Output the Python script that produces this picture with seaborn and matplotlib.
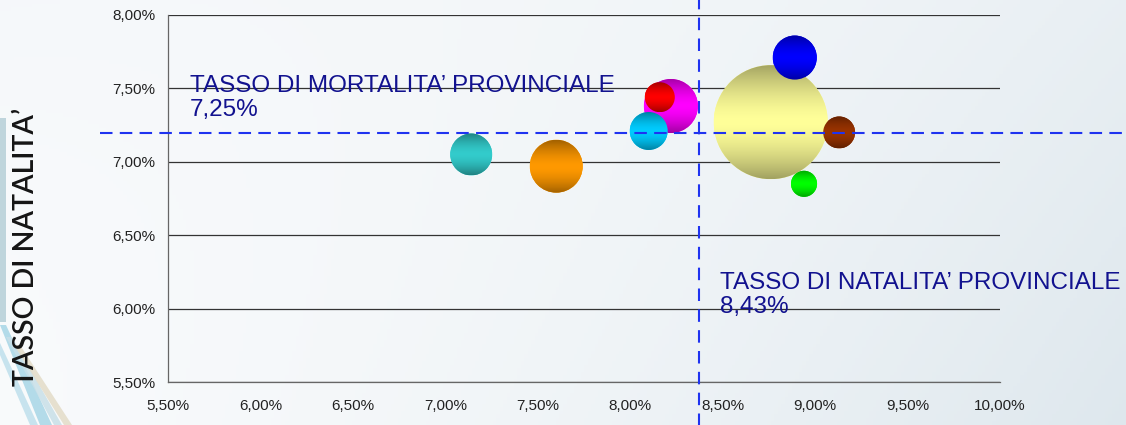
#!/usr/bin/env python3
import numpy as np
import pandas as pd
import seaborn as sns
import matplotlib.pyplot as plt
from matplotlib.patches import Circle, Polygon
from matplotlib.colors import to_rgb
from matplotlib.transforms import IdentityTransform

# data (rates in %)
zone = ["Zona A", "Zona B", "Zona C", "Zona D", "Zona E",
        "Zona F", "Zona G", "Zona H", "Zona I"]
natalita = [8.76, 7.60, 8.22, 8.89, 7.14, 8.10, 9.13, 8.16, 8.94]
mortalita = [7.27, 6.97, 7.38, 7.71, 7.05, 7.21, 7.20, 7.44, 6.85]
popolazione = [3250, 700, 730, 485, 440, 360, 255, 225, 170]
colori = ["#ffff99", "#ff9900", "#ff00ff", "#0000ff", "#33cccc",
          "#00ccff", "#993300", "#ff0000", "#00ff00"]

# provincial reference lines
rif_natalita = 8.37
rif_mortalita = 7.195
testo_natalita = "TASSO DI NATALITA’ PROVINCIALE\n8,43%"
testo_mortalita = "TASSO DI MORTALITA’ PROVINCIALE\n7,25%"

x_ticks = [5.5, 6.0, 6.5, 7.0, 7.5, 8.0, 8.5, 9.0, 9.5, 10.0]
y_ticks = [5.5, 6.0, 6.5, 7.0, 7.5, 8.0]


def pct(v):
    return f"{v:.2f}%".replace(".", ",")


def draw_background(fig):
    """Soft template background with the stripes on the left."""
    bg = fig.add_axes([0, 0, 1, 1], zorder=-10)
    h, w = 120, 320
    yy, xx = np.mgrid[0:1:h * 1j, 0:1:w * 1j]
    weight = 0.55 * xx ** 2 + 0.35 * xx * (1 - yy) + 0.12 * (1 - xx) * yy ** 2
    weight = np.clip(weight, 0, 1)
    white = np.array([0.975, 0.982, 0.988])
    tint = np.array([0.86, 0.90, 0.925])
    img = white[None, None, :] * (1 - weight[..., None]) + tint[None, None, :] * weight[..., None]
    bg.imshow(img, extent=[0, 1126, 0, 425], aspect="auto", origin="lower")
    bg.set_xlim(0, 1126)
    bg.set_ylim(0, 425)
    bg.axis("off")
    # vertical bar on the left edge
    bg.add_patch(Polygon([[0, 103], [6, 103], [6, 307], [0, 307]],
                         color="#bfd5dc", lw=0))
    # diagonal stripes at the bottom-left corner
    stripes = [([[0, 100], [6, 100], [52, 0], [40, 0]], "#a7d6e6"),
               ([[0, 82], [0, 70], [30, 0], [38, 0]], "#bfe0ec"),
               ([[6, 88], [12, 88], [62, 0], [54, 0]], "#c8dfe8"),
               ([[14, 80], [20, 80], [72, 0], [64, 0]], "#e3dcc8")]
    for pts, col in stripes:
        bg.add_patch(Polygon(pts, color=col, lw=0, alpha=0.85))


def add_shading(fig, ax, df, sizes_pt):
    """Shade every bubble with a darker top and bottom, like a 3D sphere."""
    fig.canvas.draw()
    t = np.linspace(-1, 1, 64)[:, None]
    factor = 1 - 0.36 * np.abs(t) ** 1.6
    inv = ax.transData.inverted()
    for i, row in df.reset_index(drop=True).iterrows():
        base = np.array(to_rgb(row["colore"]))
        grad = np.clip(factor[..., None] * base[None, None, :], 0, 1)
        cx, cy = ax.transData.transform((row["natalita"], row["mortalita"]))
        r = np.sqrt(sizes_pt[i]) / 2 * fig.dpi / 72
        (x0, y0), (x1, y1) = inv.transform([(cx - r, cy - r), (cx + r, cy + r)])
        im = ax.imshow(grad, extent=[x0, x1, y0, y1], origin="upper",
                       aspect="auto", zorder=3 + i * 0.01, interpolation="bilinear")
        im.set_clip_path(Circle((cx, cy), r, transform=IdentityTransform()))


def main():
    df = pd.DataFrame({
        "zona": zone,
        "natalita": natalita,
        "mortalita": mortalita,
        "popolazione": popolazione,
        "colore": colori,
    })

    sns.set_style("white")
    plt.rcParams["font.family"] = ["Liberation Sans", "DejaVu Sans"]

    fig = plt.figure(figsize=(11.26, 4.25), dpi=100)
    fig.patch.set_facecolor("white")
    draw_background(fig)

    ax = fig.add_axes([168 / 1126, 43 / 425, 832 / 1126, 367 / 425])
    ax.set_facecolor("none")

    # bubble area proportional to population
    k = 2.0736
    sns.scatterplot(
        data=df, x="natalita", y="mortalita",
        hue="zona", palette=dict(zip(zone, colori)),
        size="popolazione", sizes=(k * min(popolazione), k * max(popolazione)),
        size_norm=(min(popolazione), max(popolazione)),
        linewidth=0, legend=False, ax=ax, zorder=2.5,
    )

    ax.set_xlim(5.5, 10.0)
    ax.set_ylim(5.5, 8.0)
    ax.set_xticks(x_ticks)
    ax.set_yticks(y_ticks)
    ax.set_xticklabels([pct(v) for v in x_ticks])
    ax.set_yticklabels([pct(v) for v in y_ticks])
    ax.tick_params(axis="both", direction="out", length=4, width=0.8,
                   color="#666666", labelsize=11, labelcolor="#222222")
    ax.tick_params(axis="x", pad=8.5)
    ax.tick_params(axis="y", pad=5)
    ax.set_xlabel("")
    ax.set_ylabel("")

    ax.yaxis.grid(True, color="#333333", lw=0.9)
    ax.xaxis.grid(False)
    ax.set_axisbelow(True)
    for side in ["top", "right"]:
        ax.spines[side].set_visible(False)
    for side in ["left", "bottom"]:
        ax.spines[side].set_color("#666666")
        ax.spines[side].set_linewidth(0.9)

    add_shading(fig, ax, df, [k * p for p in popolazione])
    ax.set_xlim(5.5, 10.0)
    ax.set_ylim(5.5, 8.0)

    # provincial reference lines, running past the plot area
    ax.axhline(rif_mortalita, xmin=-0.082, xmax=1.16, color="#1f33f0",
               lw=1.5, ls=(0, (6, 3.5)), clip_on=False, zorder=4)
    ax.axvline(rif_natalita, ymin=-0.12, ymax=1.05, color="#1f33f0",
               lw=1.5, ls=(0, (6, 4)), clip_on=False, zorder=4)

    ax.text(5.62, 7.59, testo_mortalita, color="#12128f", fontsize=17.5,
            va="top", ha="left", linespacing=1.12, zorder=5)
    ax.text(8.485, 6.25, testo_natalita, color="#12128f", fontsize=17.5,
            va="top", ha="left", linespacing=1.12, zorder=5, clip_on=False)

    fig.text(0.023, 0.418, "TASSO DI NATALITA’", rotation=90, fontsize=20.5,
             family=["Lato", "DejaVu Sans"], fontweight="semibold",
             color="#151515", ha="center", va="center")

    fig.savefig("out.png", dpi=100)
    plt.close("all")


if __name__ == "__main__":
    main()
